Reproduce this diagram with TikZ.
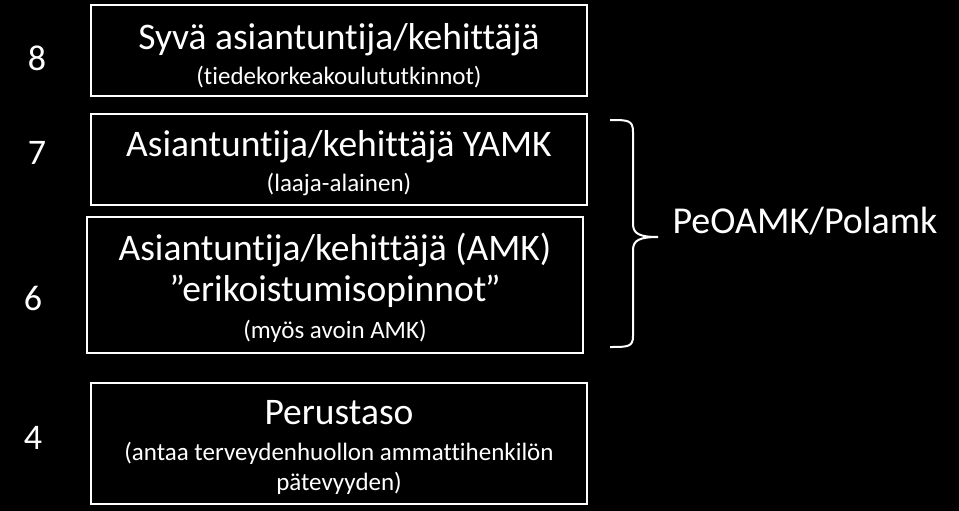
\documentclass[tikz,border=0pt]{standalone}
\usepackage{fontspec}
\setmainfont[Ligatures=NoCommon]{Carlito}
\begin{document}
\begin{tikzpicture}[x=1pt,y=-1pt,
  lvlbox/.style={draw=white,line width=2pt,fill=black},
  lvlnum/.style={text=white,font=\fontsize{36}{40}\selectfont,inner sep=0pt},
  bigtxt/.style={text=white,font=\fontsize{37.5}{42}\selectfont,inner sep=0pt,anchor=center},
  smalltxt/.style={text=white,font=\fontsize{25}{29}\selectfont,inner sep=0pt,anchor=center}]
\fill[black] (0,0) rectangle (959,511);
\useasboundingbox (0,0) rectangle (959,511);
% boxes
\draw[lvlbox] (91,5) rectangle (587,96);
\draw[lvlbox] (91,114) rectangle (587,205);
\draw[lvlbox] (87,217) rectangle (583,353);
\draw[lvlbox] (91,383) rectangle (587,504);
% texts
\node[bigtxt] (t8a) at (339,40) {Syvä asiantuntija/kehittäjä};
\node[smalltxt] (t8b) at (339,77) {(tiedekorkeakoulututkinnot)};
\node[bigtxt] (t7a) at (339,147) {Asiantuntija/kehittäjä YAMK};
\node[smalltxt] (t7b) at (339,184) {(laaja-alainen)};
\node[bigtxt] (t6a) at (335,250) {Asiantuntija/kehittäjä (AMK)};
\node[bigtxt] (t6b) at (335,291) {”erikoistumisopinnot\kern-1.5pt”};
\node[smalltxt] (t6c) at (335,331) {(myös avoin AMK)};
\node[bigtxt] (t4a) at (339,413) {Perustaso};
\node[smalltxt] (t4b) at (339,453) {(antaa terveydenhuollon ammattihenkilön};
\node[smalltxt] (t4c) at (339,483) {pätevyyden)};
% level numbers
\node[lvlnum] (n8) at (37,58) {8};
\node[lvlnum] (n7) at (37,153) {7};
\node[lvlnum] (n6) at (33,298) {6};
\node[lvlnum] (n4) at (33,438) {4};
% brace
\draw[white,line width=2pt] (610,120) .. controls (628,120) and (633,120) .. (633,132)
  -- (633,224) .. controls (633,234) and (640,237) .. (658,237)
  .. controls (640,237) and (633,240) .. (633,250)
  -- (633,336) .. controls (633,347) and (628,347) .. (610,347);
\node[text=white,font=\fontsize{38}{44}\selectfont,inner sep=0pt] (peo) at (805,221) {PeOAMK/Polamk};
\end{tikzpicture}
\end{document}
